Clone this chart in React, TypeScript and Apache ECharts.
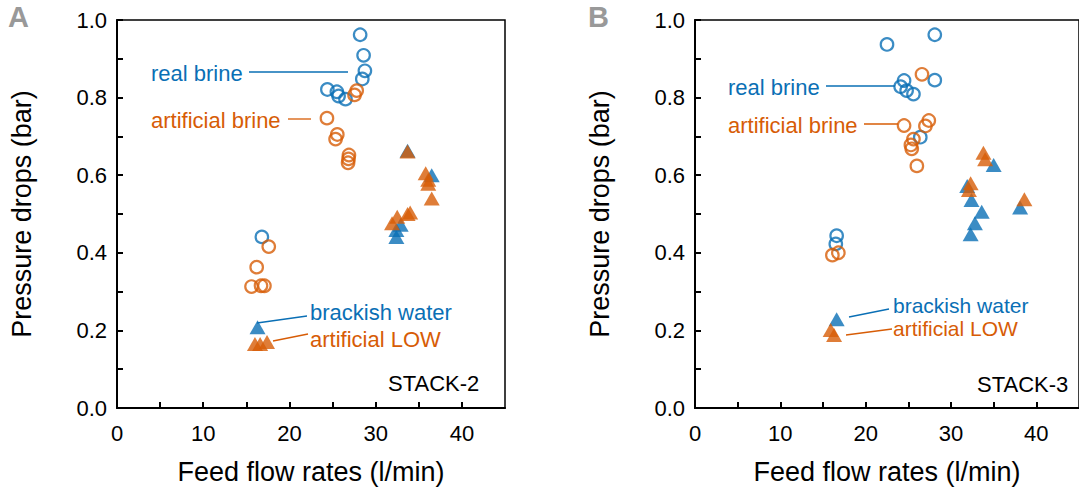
import React, { useEffect, useRef } from "react";
import * as echarts from "echarts";

const BLUE = "#0a6fb5";
const ORANGE = "#d75c06";
const FONT = '"Liberation Sans", Arial, sans-serif';

// Panel A (STACK-2): [feed flow rate l/min, pressure drop bar]
const aRealBrine = [[28.2, 0.962], [28.6, 0.909], [28.75, 0.869], [28.45, 0.848], [24.4, 0.821], [25.5, 0.815], [25.7, 0.804], [26.5, 0.796], [16.8, 0.441]];
const aArtBrine = [[27.8, 0.818], [27.55, 0.807], [24.35, 0.747], [25.55, 0.705], [25.35, 0.693], [26.9, 0.652], [26.85, 0.642], [26.8, 0.632], [17.6, 0.416], [16.2, 0.363], [15.6, 0.313], [16.7, 0.315], [17.1, 0.315]];
const aBrackish = [[33.7, 0.663], [36.5, 0.6], [32.9, 0.472], [32.4, 0.459], [32.4, 0.441], [16.3, 0.208]];
const aArtLow = [[33.7, 0.661], [35.8, 0.605], [36.1, 0.588], [36.1, 0.578], [36.5, 0.54], [34.0, 0.504], [33.7, 0.5], [32.5, 0.493], [31.9, 0.476], [16.0, 0.165], [16.6, 0.165], [17.4, 0.17]];

// Panel B (STACK-3)
const bRealBrine = [[22.5, 0.937], [28.1, 0.962], [24.5, 0.844], [24.1, 0.828], [24.8, 0.818], [25.6, 0.809], [28.1, 0.845], [26.4, 0.698], [16.6, 0.444], [16.5, 0.423]];
const bArtBrine = [[26.6, 0.86], [24.5, 0.728], [27.4, 0.741], [27.0, 0.727], [25.6, 0.693], [25.3, 0.678], [25.4, 0.668], [26.0, 0.624], [16.1, 0.394], [16.8, 0.4]];
const bBrackish = [[35.0, 0.626], [31.9, 0.572], [32.4, 0.536], [33.6, 0.506], [32.8, 0.476], [32.3, 0.448], [38.1, 0.517], [16.6, 0.229]];
const bArtLow = [[33.8, 0.658], [34.0, 0.641], [32.3, 0.579], [32.1, 0.562], [38.6, 0.538], [15.9, 0.201], [16.3, 0.188]];

const X_LABEL_STEP = 10;
const Y_LABEL_STEP = 0.2;

const xName = "Feed flow rates (l/min)";
const yName = "Pressure drops (bar)";

function xAxis(gridIndex: number) {
  return {
    type: "value",
    gridIndex,
    min: 0,
    max: 45,
    interval: 5,
    name: xName,
    nameLocation: "middle",
    nameGap: 50,
    nameTextStyle: { fontSize: 27, color: "#000", fontFamily: FONT },
    axisLine: { show: true, lineStyle: { color: "#000", width: 2 } },
    axisTick: { show: true, inside: true, length: 6, lineStyle: { color: "#000", width: 2 } },
    axisLabel: {
      fontSize: 22,
      color: "#000",
      fontFamily: FONT,
      margin: 14,
      showMaxLabel: false,
      formatter: (v: number) => (Math.round(v) % X_LABEL_STEP === 0 ? String(v) : ""),
    },
    splitLine: { show: false },
  };
}

function yAxis(gridIndex: number) {
  return {
    type: "value",
    gridIndex,
    min: 0,
    max: 1,
    interval: 0.1,
    name: yName,
    nameLocation: "middle",
    nameGap: 82,
    nameTextStyle: { fontSize: 27, color: "#000", fontFamily: FONT },
    axisLine: { show: true, lineStyle: { color: "#000", width: 2 } },
    axisTick: { show: true, inside: true, length: 6, lineStyle: { color: "#000", width: 2 } },
    axisLabel: {
      fontSize: 22,
      color: "#000",
      fontFamily: FONT,
      margin: 10,
      formatter: (v: number) => (Math.round(v * 10) % Math.round(Y_LABEL_STEP * 10) === 0 ? v.toFixed(1) : ""),
    },
    splitLine: { show: false },
  };
}

function circleSeries(name: string, data: number[][], color: string, idx: number) {
  return {
    name,
    type: "scatter",
    xAxisIndex: idx,
    yAxisIndex: idx,
    data,
    symbol: "circle",
    symbolSize: 12.5,
    itemStyle: { color: "rgba(0,0,0,0)", borderColor: color, borderWidth: 2.2 },
  };
}

function triSeries(name: string, data: number[][], color: string, idx: number) {
  return {
    name,
    type: "scatter",
    xAxisIndex: idx,
    yAxisIndex: idx,
    data,
    symbol: "triangle",
    symbolSize: [16, 14],
    itemStyle: { color },
  };
}

function txt(x: number, y: number, text: string, fill: string, size = 22) {
  return {
    type: "text",
    x,
    y,
    style: { text, fill, fontSize: size, fontFamily: FONT, verticalAlign: "middle", align: "left", lineHeight: size },
  };
}

function ln(x1: number, y1: number, x2: number, y2: number, stroke: string) {
  return {
    type: "line",
    shape: { x1, y1, x2, y2 },
    style: { stroke, lineWidth: 1.3 },
  };
}

export default function App() {
  const ref = useRef<HTMLDivElement>(null);
  useEffect(() => {
    if (!ref.current) return;
    const chart = echarts.init(ref.current, undefined, { renderer: "svg" });
    chart.setOption({
      animation: false,
      backgroundColor: "#fff",
      grid: [
        { left: 117, top: 20, width: 388, height: 388, show: true, borderColor: "#000", borderWidth: 1.5, containLabel: false },
        { left: 695, top: 20, width: 390, height: 388, show: true, borderColor: "#000", borderWidth: 1.5, containLabel: false },
      ],
      xAxis: [xAxis(0), xAxis(1)],
      yAxis: [yAxis(0), yAxis(1)],
      series: [
        circleSeries("real brine", aRealBrine, BLUE, 0),
        circleSeries("artificial brine", aArtBrine, ORANGE, 0),
        triSeries("brackish water", aBrackish, BLUE, 0),
        triSeries("artificial LOW", aArtLow, ORANGE, 0),
        circleSeries("real brine", bRealBrine, BLUE, 1),
        circleSeries("artificial brine", bArtBrine, ORANGE, 1),
        triSeries("brackish water", bBrackish, BLUE, 1),
        triSeries("artificial LOW", bArtLow, ORANGE, 1),
      ],
      graphic: [
        { type: "text", x: 8, y: 2, style: { text: "A", fill: "#999", fontSize: 29, fontWeight: "bold", fontFamily: FONT } },
        { type: "text", x: 588, y: 2, style: { text: "B", fill: "#999", fontSize: 29, fontWeight: "bold", fontFamily: FONT } },
        // Panel A annotations
        txt(151, 73, "real brine", BLUE),
        ln(249, 72, 348, 72, BLUE),
        txt(151, 120, "artificial brine", ORANGE),
        ln(288, 119, 311, 119, ORANGE),
        txt(310, 312, "brackish water", BLUE),
        ln(257, 323, 307, 316, BLUE),
        txt(310, 339, "artificial LOW", ORANGE),
        ln(273, 341, 308, 334, ORANGE),
        txt(388, 383, "STACK-2", "#000"),
        // Panel B annotations
        txt(728, 87, "real brine", BLUE),
        ln(826, 86, 895, 86, BLUE),
        txt(728, 125, "artificial brine", ORANGE),
        ln(864, 124, 898, 124, ORANGE),
        txt(893, 305.5, "brackish water", BLUE, 21),
        ln(849, 317, 889, 309, BLUE),
        txt(893, 328.5, "artificial LOW", ORANGE, 21),
        ln(846, 335, 892, 329, ORANGE),
        txt(977, 384, "STACK-3", "#000"),
      ],
    });
    return () => chart.dispose();
  }, []);
  return (
    <div
      ref={ref}
      style={{ position: "absolute", left: 0, top: 0, width: 1079, height: 493, background: "#fff" }}
    />
  );
}
